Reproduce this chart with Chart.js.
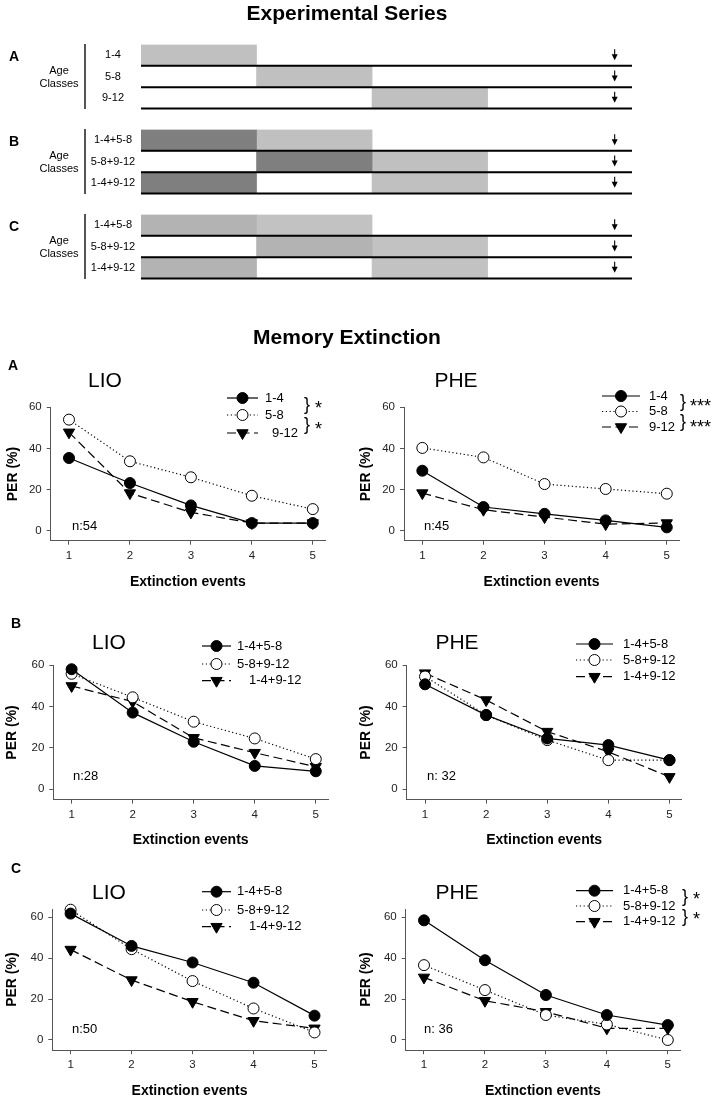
<!DOCTYPE html>
<html>
<head>
<meta charset="utf-8">
<script src="https://cdn.jsdelivr.net/npm/chart.js@4.4.1/dist/chart.umd.min.js"></script>
<style>
  body { margin: 0; background: #fff; }
  #page { position: relative; width: 718px; height: 1099px; overflow: hidden; color: #000;
          font-family: "Liberation Sans", Arial, sans-serif; }
  #page canvas { position: absolute; left: 0; top: 0; }
  .t { position: absolute; line-height: 1; white-space: pre; transform: translate(-50%, -50%); }
  .t.left { transform: translate(0, -50%); }
  .vbar { position: absolute; width: 1.5px; height: 65px; background: #555; }
</style>
</head>
<body>
<div id="page"></div>
<script>
// ---------- data ----------
const events = [1, 2, 3, 4, 5];
const perTicks = [0, 20, 40, 60];

const singleGroups = ['1-4', '5-8', '9-12'];
const pairGroups = ['1-4+5-8', '5-8+9-12', '1-4+9-12'];

// experimental series: days of each exposure block per row ([start, end], null = none)
const seriesAFirst = [[0, 4], [4, 8], [8, 12]];
const seriesASecond = [null, null, null];
const seriesBFirst = [[0, 4], [4, 8], [0, 4]];
const seriesBSecond = [[4, 8], [8, 12], [8, 12]];
const seriesCFirst = [[0, 4], [4, 8], [0, 4]];
const seriesCSecond = [[4, 8], [8, 12], [8, 12]];
const testDay = 16.4;
const dayMax = 17;

// memory extinction, PER (%)
const lioA_1 = [35.3, 23.1, 12.2, 3.6, 3.6];
const lioA_2 = [54.0, 33.7, 25.9, 16.9, 10.4];
const lioA_3 = [47.8, 18.2, 8.8, 3.6, 3.6];
const pheA_1 = [29.1, 11.4, 8.1, 4.9, 1.5];
const pheA_2 = [40.2, 35.6, 22.6, 20.2, 17.9];
const pheA_3 = [18.2, 10.1, 6.5, 3.1, 3.6];

const lioB_1 = [58.1, 37.1, 23.0, 11.3, 8.7];
const lioB_2 = [55.9, 44.5, 32.7, 24.6, 14.6];
const lioB_3 = [50.0, 42.4, 24.9, 17.7, 10.9];
const pheB_1 = [50.8, 35.9, 24.6, 21.4, 14.1];
const pheB_2 = [54.6, 35.9, 23.8, 14.1, 14.1];
const pheB_3 = [56.2, 43.2, 27.9, 18.1, 6.0];

const lioC_1 = [61.8, 46.0, 37.9, 28.0, 11.9];
const lioC_2 = [63.7, 44.4, 28.8, 15.4, 3.7];
const lioC_3 = [44.2, 29.3, 18.7, 9.4, 5.7];
const pheC_1 = [58.5, 39.0, 22.0, 12.2, 7.3];
const pheC_2 = [36.6, 24.4, 12.2, 7.6, 0.0];
const pheC_3 = [30.6, 19.2, 13.8, 5.7, 5.7];

// ---------- page ----------
const FONT = '"Liberation Sans", Arial, sans-serif';
Chart.defaults.font.family = FONT;
const page = document.getElementById('page');

function text(str, x, y, font, left) {
    const d = document.createElement('div');
    d.className = left ? 't left' : 't';
    d.style.left = x + 'px';
    d.style.top = y + 'px';
    d.style.font = font + ' ' + FONT;
    d.textContent = str;
    page.appendChild(d);
}

function newCanvas() {
    const cv = document.createElement('canvas');
    cv.width = 718;
    cv.height = 1099;
    page.appendChild(cv);
    return cv;
}

// ---------- experimental series (floating bars) ----------
const schemePlugin = {
    id: 'scheme',
    afterDatasetsDraw(chart) {
        const {ctx, chartArea, scales: {x, y}} = chart;
        const rowH = (chartArea.bottom - chartArea.top) / chart.data.labels.length;
        chart.data.labels.forEach((lab, i) => {
            const yc = y.getPixelForValue(i);
            const yb = yc + rowH / 2;
            const ax = x.getPixelForValue(testDay);
            ctx.save();
            ctx.strokeStyle = '#000';
            ctx.lineWidth = 2;
            ctx.beginPath();
            ctx.moveTo(x.getPixelForValue(0), yb);
            ctx.lineTo(x.getPixelForValue(dayMax), yb);
            ctx.stroke();
            ctx.lineWidth = 1.1;
            ctx.beginPath();
            ctx.moveTo(ax, yc - 6);
            ctx.lineTo(ax, yc + 1);
            ctx.stroke();
            ctx.fillStyle = '#000';
            ctx.beginPath();
            ctx.moveTo(ax - 3, yc - 1);
            ctx.lineTo(ax + 3, yc - 1);
            ctx.lineTo(ax, yc + 5);
            ctx.closePath();
            ctx.fill();
            ctx.font = '11px ' + FONT;
            ctx.textAlign = 'center';
            ctx.textBaseline = 'middle';
            ctx.fillText(lab, 113, yc);
            ctx.restore();
        });
    }
};

function schemeChart(top, rows, first, second, c1, c2) {
    new Chart(newCanvas(), {
        type: 'bar',
        data: {
            labels: rows,
            datasets: [
                {data: first, backgroundColor: c1, grouped: false},
                {data: second, backgroundColor: c2, grouped: false}
            ]
        },
        options: {
            indexAxis: 'y',
            responsive: false,
            animation: false,
            barPercentage: 1,
            categoryPercentage: 1,
            layout: {padding: {left: 141, right: 718 - 632, top: top, bottom: 1099 - top - 64}},
            plugins: {legend: {display: false}, tooltip: {enabled: false}},
            scales: {
                x: {type: 'linear', min: 0, max: dayMax, display: false},
                y: {display: false}
            }
        },
        plugins: [schemePlugin]
    });
}

schemeChart(44.5, singleGroups, seriesAFirst, seriesASecond, '#c0c0c0', '#c0c0c0');
schemeChart(129.5, pairGroups, seriesBFirst, seriesBSecond, '#7f7f7f', '#c0c0c0');
schemeChart(214.5, pairGroups, seriesCFirst, seriesCSecond, '#b3b3b3', '#c2c2c2');

[44, 129, 214].forEach((t, i) => {
    const v = document.createElement('div');
    v.className = 'vbar';
    v.style.left = '84px';
    v.style.top = t + 'px';
    page.appendChild(v);
    text(['A', 'B', 'C'][i], 14, t + 12, 'bold 14px');
    text('Age', 59, t + 25.5, '11px');
    text('Classes', 59, t + 38.5, '11px');
});
text('Experimental Series', 347, 13, 'bold 21px');
text('Memory Extinction', 347, 337, 'bold 21px');

// ---------- memory extinction line charts ----------
const lineStyles = [
    {dash: [], style: 'circle', fill: '#000', r: 5.5, rot: 0},
    {dash: [1.2, 2.6], style: 'circle', fill: '#fff', r: 5.5, rot: 0},
    {dash: [9, 4.5], style: 'triangle', fill: '#000', r: 6.5, rot: 180}
];

function marker(ctx, st, x, y) {
    ctx.beginPath();
    if (st.style === 'circle') {
        ctx.arc(x, y, st.r, 0, Math.PI * 2);
    } else {
        const h = st.r * Math.sin(Math.PI / 3);
        ctx.moveTo(x, y + st.r);
        ctx.lineTo(x - h, y - st.r / 2);
        ctx.lineTo(x + h, y - st.r / 2);
        ctx.closePath();
    }
    ctx.fillStyle = st.fill;
    ctx.fill();
    ctx.lineWidth = 1;
    ctx.strokeStyle = '#000';
    ctx.stroke();
}

const keyPlugin = {
    id: 'key',
    afterDraw(chart, args, o) {
        const ctx = chart.ctx;
        chart.data.datasets.forEach((ds, i) => {
            const y = o.rows[i];
            ctx.save();
            ctx.strokeStyle = '#000';
            ctx.lineWidth = 1.2;
            ctx.setLineDash(lineStyles[i].dash);
            ctx.beginPath();
            ctx.moveTo(o.x0, y);
            ctx.lineTo(o.x1, y);
            ctx.stroke();
            ctx.setLineDash([]);
            marker(ctx, lineStyles[i], (o.x0 + o.x1) / 2, y);
            ctx.fillStyle = '#000';
            ctx.font = '13px ' + FONT;
            ctx.textBaseline = 'middle';
            ctx.fillText(ds.label, o.tx + (o.indent[i] || 0), y);
            ctx.restore();
        });
    }
};

function lineChart(c) {
    const yLeft = c.yTitleX - 8.4;
    const xH = 41 + 8.4;
    const datasets = c.series.map((d, i) => ({
        label: c.groups[i],
        data: d.map((v, j) => ({x: events[j], y: v})),
        borderColor: '#000',
        borderWidth: 1.2,
        borderDash: lineStyles[i].dash,
        pointStyle: lineStyles[i].style,
        pointRadius: lineStyles[i].r,
        pointRotation: lineStyles[i].rot,
        pointBackgroundColor: lineStyles[i].fill,
        pointBorderColor: '#000',
        pointBorderWidth: 1,
        tension: 0,
        clip: false
    }));
    new Chart(newCanvas(), {
        type: 'line',
        data: {datasets: datasets},
        options: {
            responsive: false,
            animation: false,
            layout: {padding: {left: yLeft, top: c.T, right: 718 - c.R, bottom: 1099 - c.B - xH}},
            plugins: {legend: {display: false}, tooltip: {enabled: false}, key: c.key},
            scales: {
                x: {
                    type: 'linear', min: 0.7, max: 5.2,
                    afterBuildTicks: s => { s.ticks = events.map(v => ({value: v})); },
                    afterFit: s => { s.height = xH; },
                    border: {color: '#555', width: 1},
                    grid: {drawOnChartArea: false, tickLength: 4, color: '#555'},
                    ticks: {color: '#222', font: {size: 11.5}, padding: 4, maxRotation: 0, autoSkip: false},
                    title: {display: true, text: 'Extinction events', color: '#000',
                            font: {size: 14, weight: 'bold'}, padding: 0}
                },
                y: {
                    type: 'linear', min: -5, max: c.yMax,
                    afterBuildTicks: s => { s.ticks = perTicks.map(v => ({value: v})); },
                    afterFit: s => { s.width = c.L - yLeft; },
                    border: {color: '#555', width: 1},
                    grid: {drawOnChartArea: false, tickLength: 4, color: '#555'},
                    ticks: {color: '#222', font: {size: 11.5}, padding: 5},
                    title: {display: true, text: 'PER (%)', color: '#000',
                            font: {size: 14, weight: 'bold'}, padding: 0}
                }
            }
        },
        plugins: [keyPlugin]
    });
}

const lioKey = (rows) => ({x0: 202, x1: 231, tx: 237, rows: rows, indent: [0, 0, 12]});
const pheKey = (rows) => ({x0: 576, x1: 613, tx: 623, rows: rows, indent: [0, 0, 0]});

lineChart({series: [lioA_1, lioA_2, lioA_3], groups: singleGroups, L: 50.7, R: 325, T: 407.3, B: 540.7,
           yMax: 60, yTitleX: 13, key: {x0: 227, x1: 258, tx: 265, rows: [398, 415, 433], indent: [0, 0, 7]}});
lineChart({series: [pheA_1, pheA_2, pheA_3], groups: singleGroups, L: 404, R: 679, T: 407.3, B: 540.7,
           yMax: 60, yTitleX: 366, key: {x0: 602, x1: 640, tx: 649, rows: [396, 411.5, 427], indent: [0, 0, 0]}});
lineChart({series: [lioB_1, lioB_2, lioB_3], groups: pairGroups, L: 53.3, R: 328, T: 665.3, B: 799.6,
           yMax: 60, yTitleX: 12, key: lioKey([646, 664, 680.7])});
lineChart({series: [pheB_1, pheB_2, pheB_3], groups: pairGroups, L: 406.7, R: 681.7, T: 665.3, B: 799.6,
           yMax: 60, yTitleX: 366, key: pheKey([644, 660, 676.7])});
lineChart({series: [lioC_1, lioC_2, lioC_3], groups: pairGroups, L: 52.3, R: 326.7, T: 909.1, B: 1050.2,
           yMax: 64, yTitleX: 12, key: lioKey([891.7, 910, 926.7])});
lineChart({series: [pheC_1, pheC_2, pheC_3], groups: pairGroups, L: 405.7, R: 680, T: 909.1, B: 1050.2,
           yMax: 64, yTitleX: 366, key: pheKey([890.7, 906, 921.7])});

// panel letters, titles, sample sizes, significance marks
text('A', 13, 365, 'bold 14px');
text('B', 16, 623, 'bold 14px');
text('C', 16, 868, 'bold 14px');
text('LIO', 105, 380, '21px');
text('PHE', 456, 380, '21px');
text('LIO', 109, 642, '21px');
text('PHE', 457, 642, '21px');
text('LIO', 109, 892, '21px');
text('PHE', 457, 892, '21px');
text('n:54', 72, 525, '13px', true);
text('n:45', 424, 525, '13px', true);
text('n:28', 73, 775, '13px', true);
text('n: 32', 427, 775, '13px', true);
text('n:50', 72, 1028, '13px', true);
text('n: 36', 424, 1028, '13px', true);

text('}', 307, 403.5, '18px');
text('}', 307, 423.5, '18px');
text('*', 315, 408, '18px', true);
text('*', 315, 429, '18px', true);
text('}', 683, 401, '18px');
text('}', 683, 421, '18px');
text('***', 690, 405.5, '18px', true);
text('***', 690, 427, '18px', true);
text('}', 685, 895.5, '18px');
text('}', 685, 916, '18px');
text('*', 693, 899, '18px', true);
text('*', 693, 919, '18px', true);
</script>
</body>
</html>
